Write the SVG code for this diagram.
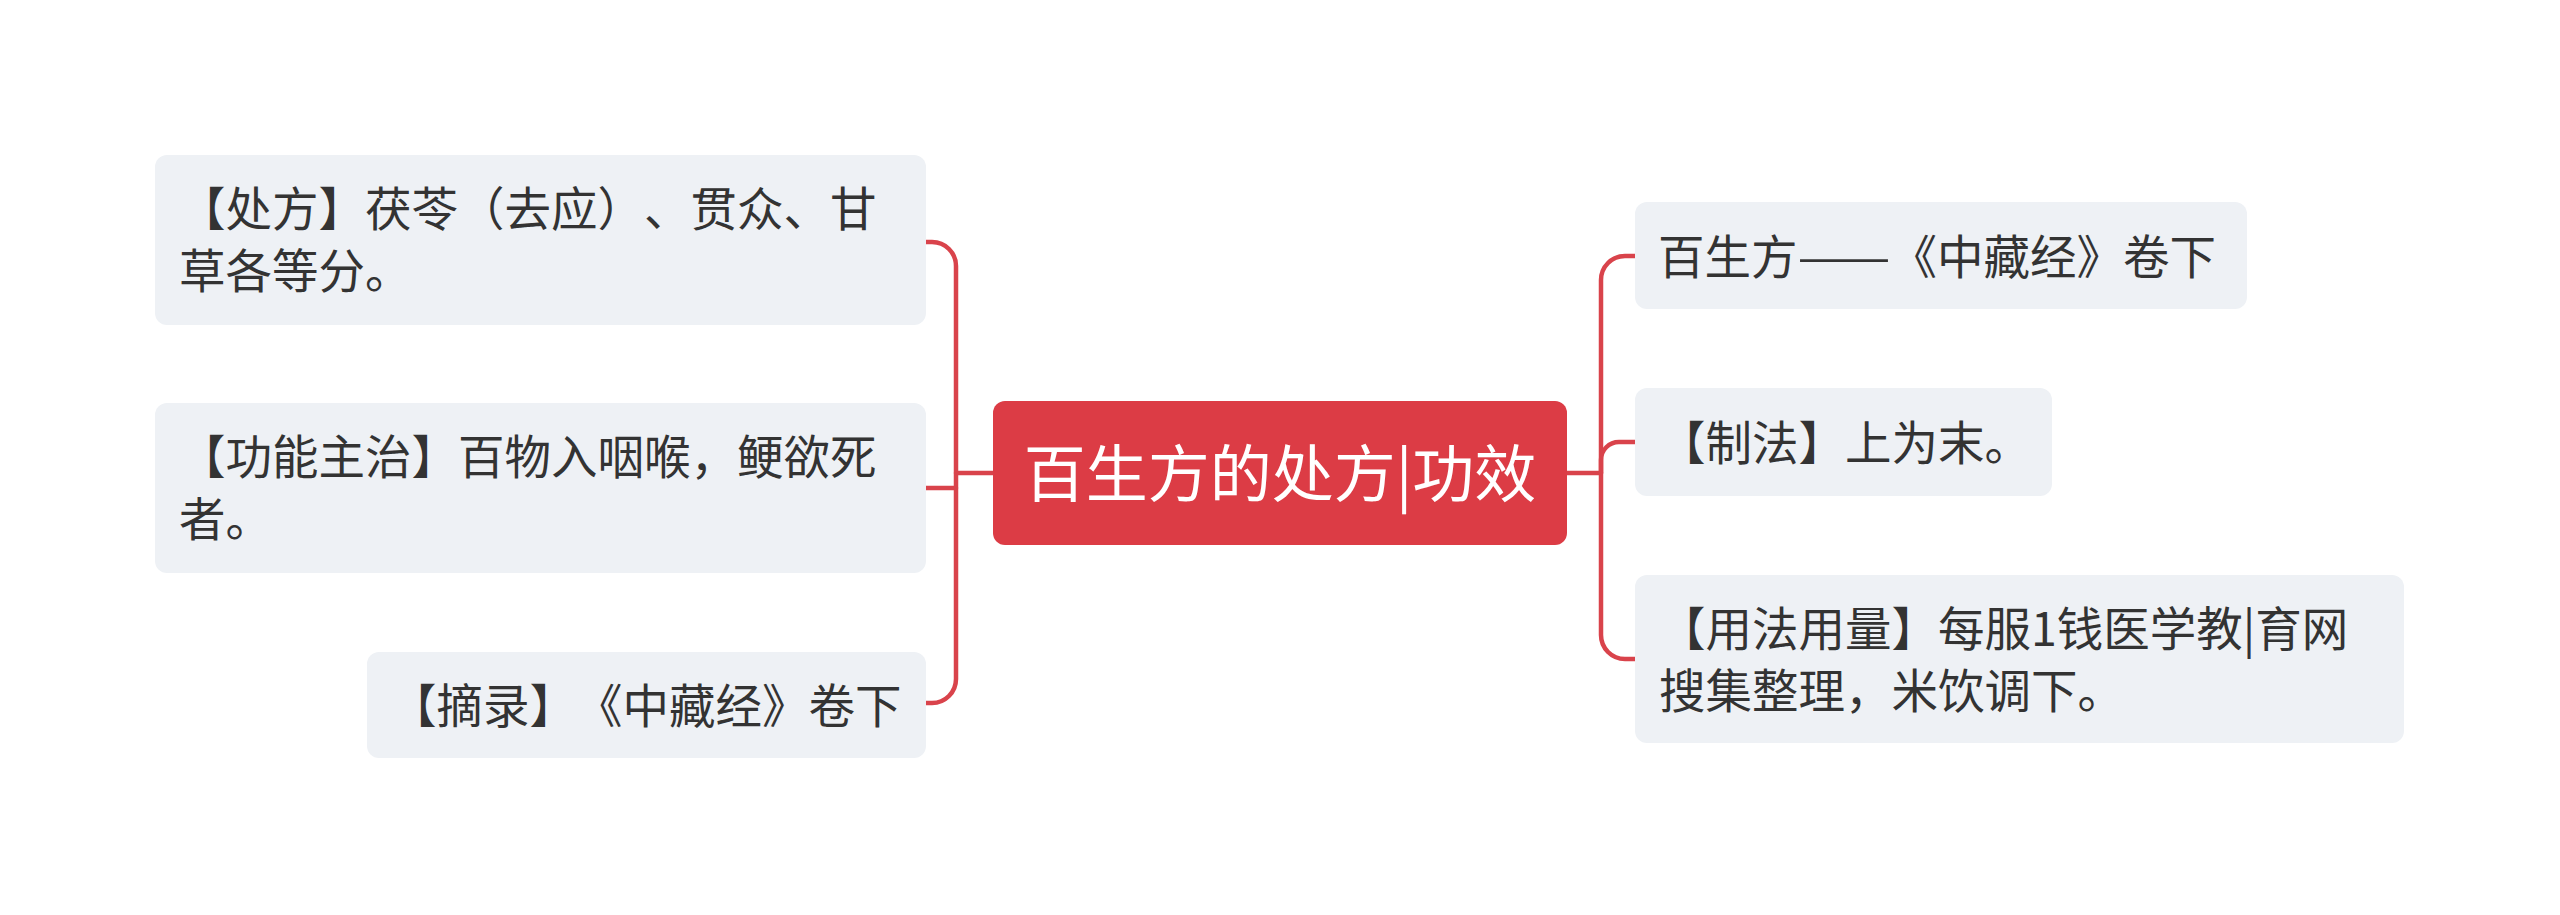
<svg xmlns="http://www.w3.org/2000/svg" width="2560" height="915" viewBox="0 0 2560 915">
<style>
.bg{fill:#ffffff}
text{text-spacing-trim:space-all;font-feature-settings:"chws" 0,"halt" 0}
.node rect{fill:#eef1f5}
.node text{font-family:"Noto Sans CJK SC","Noto Sans",sans-serif;font-size:46.5px;fill:#333333}
.root rect{fill:#dc3c45}
.root text{font-family:"Noto Sans CJK SC","Noto Sans",sans-serif;font-size:62px;fill:#ffffff}
.conn path{fill:none;stroke:#d9434b;stroke-width:4.5;stroke-linecap:round}
</style>
<rect class="bg" x="0" y="0" width="2560" height="915"/>
<g id="connectors" class="conn">
<path d="M993 473 H956"/>
<path d="M926 242 H932 A24 24 0 0 1 956 266 V679 A24 24 0 0 1 932 703 H926"/>
<path d="M956 488 H926"/>
<path d="M1567 473 H1601"/>
<path d="M1635 256 H1625 A24 24 0 0 0 1601 280 V635 A24 24 0 0 0 1625 659 H1635"/>
<path d="M1601 473 V460 A18 18 0 0 1 1619 442 H1635"/>
</g>
<g id="root" class="root">
<rect x="993" y="401" width="574" height="144" rx="12"/>
<text x="1280" y="497" text-anchor="middle">百生方的处方|功效</text>
</g>
<g id="n-chufang" class="node">
<rect x="155" y="155" width="771" height="170" rx="12"/>
<text x="179" y="226">【处方】茯苓（去应）、贯众、甘</text>
<text x="179" y="288">草各等分。</text>
</g>
<g id="n-gongneng" class="node">
<rect x="155" y="403" width="771" height="170" rx="12"/>
<text x="179" y="474">【功能主治】百物入咽喉，鲠欲死</text>
<text x="179" y="536">者。</text>
</g>
<g id="n-zhailu" class="node">
<rect x="367" y="652" width="559" height="106" rx="12"/>
<text x="390" y="723">【摘录】《中藏经》卷下</text>
</g>
<g id="n-source" class="node">
<rect x="1635" y="202" width="612" height="107" rx="12"/>
<text x="1658" y="274">百生方</text>
<text x="1797.5" y="274" textLength="93" lengthAdjust="spacingAndGlyphs">——</text>
<text x="1890.5" y="274">《中藏经》卷下</text>
</g>
<g id="n-zhifa" class="node">
<rect x="1635" y="388" width="417" height="108" rx="12"/>
<text x="1659" y="460">【制法】上为末。</text>
</g>
<g id="n-yongfa" class="node">
<rect x="1635" y="575" width="769" height="168" rx="12"/>
<text x="1659" y="646">【用法用量】每服1钱医学教|育网</text>
<text x="1659" y="708">搜集整理，米饮调下。</text>
</g>
</svg>
